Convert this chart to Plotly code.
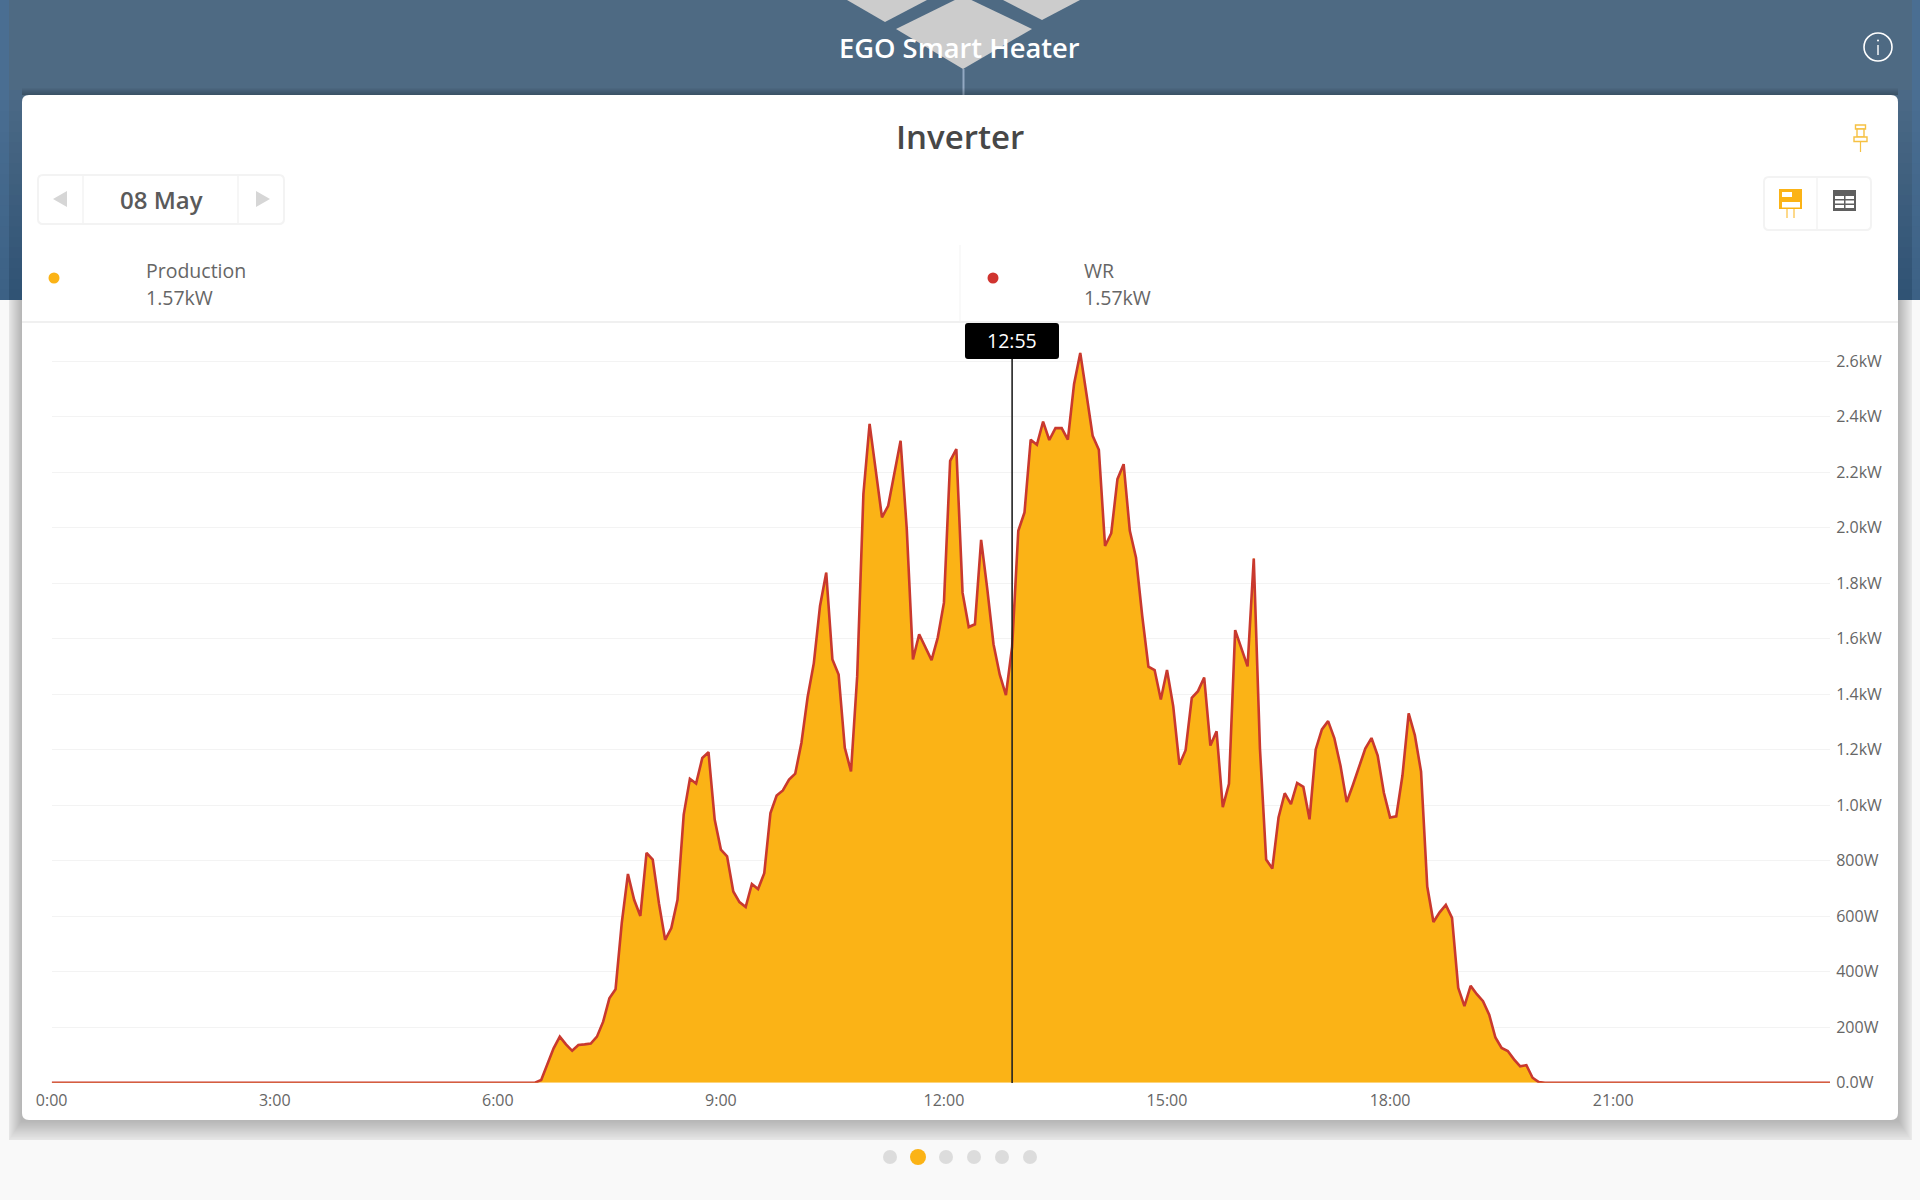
import plotly.graph_objects as go

# ---- data -----------------------------------------------------------------
night_before = [0, 0, 0, 0, 0, 0, 0, 0, 0, 0, 0, 0, 0, 0, 0, 0, 0, 0, 0, 0,
                0, 0, 0, 0, 0, 0, 0, 0, 0, 0, 0, 0, 0, 0, 0, 0, 0, 0, 0, 0,
                0, 0, 0, 0, 0, 0, 0, 0, 0, 0, 0, 0, 0, 0, 0, 0, 0, 0, 0, 0,
                0, 0, 0, 0, 0, 0, 0, 0, 0, 0, 0, 0, 0, 0, 0, 0, 0, 0, 0]
daylight = [10, 64, 124, 166, 138, 115, 136, 138, 141, 166, 220, 304, 337, 575, 752, 659, 601, 828, 804, 647,
            515, 557, 659, 966, 1095, 1078, 1170, 1191, 948, 840, 816, 689, 651, 633, 716, 698, 755, 972, 1035, 1053,
            1092, 1114, 1225, 1390, 1512, 1718, 1838, 1525, 1471, 1207, 1122, 1465, 2121, 2374, 2205, 2037, 2079, 2199, 2313, 1995,
            1525, 1616, 1568, 1523, 1604, 1730, 2241, 2283, 1766, 1642, 1652, 1956, 1778, 1580, 1471, 1397, 1570, 1989, 2055, 2317,
            2299, 2382, 2316, 2359, 2359, 2317, 2518, 2630, 2482, 2331, 2281, 1934, 1980, 2175, 2229, 1989, 1892, 1682, 1499, 1487,
            1381, 1487, 1357, 1146, 1198, 1387, 1411, 1460, 1215, 1266, 993, 1077, 1631, 1569, 1500, 1889, 1204, 804, 772, 956,
            1043, 1004, 1080, 1066, 949, 1201, 1273, 1303, 1242, 1142, 1011, 1073, 1142, 1204, 1242, 1179, 1045, 956, 960, 1107,
            1331, 1252, 1121, 707, 579, 614, 641, 594, 342, 276, 349, 319, 294, 245, 163, 125, 114, 84, 59, 63, 18, 2]
night_after = [0, 0, 0, 0, 0, 0, 0, 0, 0, 0, 0, 0, 0, 0, 0, 0, 0, 0, 0, 0,
               0, 0, 0, 0, 0, 0, 0, 0, 0, 0, 0, 0, 0, 0, 0, 0, 0, 0, 0, 0,
               0, 0, 0, 0, 0, 0, 0]
production_w = night_before + daylight + night_after
wr_w = list(production_w)
minutes = [i * 5 for i in range(len(production_w))]

x_tick_minutes = [0, 180, 360, 540, 720, 900, 1080, 1260]
x_tick_labels = ["0:00", "3:00", "6:00", "9:00", "12:00", "15:00", "18:00", "21:00"]
y_tick_watts = [0, 200, 400, 600, 800, 1000, 1200, 1400, 1600, 1800, 2000, 2200, 2400, 2600]
y_tick_labels = ["0.0W", "200W", "400W", "600W", "800W", "1.0kW", "1.2kW", "1.4kW",
                 "1.6kW", "1.8kW", "2.0kW", "2.2kW", "2.4kW", "2.6kW"]

cursor_minute = 775
cursor_label = "12:55"
date_label = "08 May"
legend_names = ["Production", "WR"]
legend_values = ["1.57kW", "1.57kW"]

ORANGE = "#fbb316"
RED = "#c9392e"
TXT = "#666666"
W, H = 1920, 1200
FONT = "Open Sans"


def X(p):
    return p / W


def Y(p):
    return 1 - p / H


shapes = []


def rect(x0, y0, x1, y1, fill, line=None, lw=0, layer="below"):
    shapes.append(dict(type="rect", xref="paper", yref="paper", x0=X(x0), x1=X(x1), y0=Y(y0), y1=Y(y1),
                       fillcolor=fill, line=dict(color=line or "rgba(0,0,0,0)", width=lw), layer=layer))


def poly(points, fill, line=None, lw=0, layer="below"):
    path = "M " + " L ".join(f"{X(a):.5f},{Y(b):.5f}" for a, b in points) + " Z"
    shapes.append(dict(type="path", xref="paper", yref="paper", path=path, fillcolor=fill,
                       line=dict(color=line or "rgba(0,0,0,0)", width=lw), layer=layer))


def rrect(x0, y0, x1, y1, r, fill, line=None, lw=0, layer="below"):
    p = (f"M {X(x0+r):.5f},{Y(y0):.5f} L {X(x1-r):.5f},{Y(y0):.5f} Q {X(x1):.5f},{Y(y0):.5f} {X(x1):.5f},{Y(y0+r):.5f} "
         f"L {X(x1):.5f},{Y(y1-r):.5f} Q {X(x1):.5f},{Y(y1):.5f} {X(x1-r):.5f},{Y(y1):.5f} "
         f"L {X(x0+r):.5f},{Y(y1):.5f} Q {X(x0):.5f},{Y(y1):.5f} {X(x0):.5f},{Y(y1-r):.5f} "
         f"L {X(x0):.5f},{Y(y0+r):.5f} Q {X(x0):.5f},{Y(y0):.5f} {X(x0+r):.5f},{Y(y0):.5f} Z")
    shapes.append(dict(type="path", xref="paper", yref="paper", path=p, fillcolor=fill,
                       line=dict(color=line or "rgba(0,0,0,0)", width=lw), layer=layer))


def seg(x0, y0, x1, y1, color, lw=1, layer="below"):
    shapes.append(dict(type="line", xref="paper", yref="paper", x0=X(x0), x1=X(x1), y0=Y(y0), y1=Y(y1),
                       line=dict(color=color, width=lw), layer=layer))


def circ(cx, cy, r, fill, line=None, lw=0, layer="below"):
    shapes.append(dict(type="circle", xref="paper", yref="paper", x0=X(cx-r), x1=X(cx+r), y0=Y(cy-r), y1=Y(cy+r),
                       fillcolor=fill, line=dict(color=line or "rgba(0,0,0,0)", width=lw), layer=layer))


def mix(a, b, t):
    return "rgb(" + ",".join(str(round(p + (q - p) * t)) for p, q in zip(a, b)) + ")"


# header band: side strips darken towards the bottom
rect(0, 0, W, 300, "#4a6e92")
rect(9, 0, 1912, 300, "#4e6a83")
band_rows = 20
for r in range(band_rows):
    y0 = 90 + r * 210 / band_rows
    y1 = y0 + 210 / band_rows + 0.5
    t = (r + 0.5) / band_rows
    outer = mix((74, 110, 146), (60, 97, 133), t)
    inner = mix((76, 106, 134), (47, 82, 116), t)
    rect(0, y0, 9, min(y1, 300), outer)
    rect(1912, y0, W, min(y1, 300), outer)
    rect(9, y0, 22, min(y1, 300), inner)
    rect(1898, y0, 1912, min(y1, 300), inner)

# logo diamonds behind title
poly([(847, 0), (885, 22), (927, 0)], "#cccccc")
poly([(1003, 0), (1042, 20), (1080, 0)], "#cccccc")
poly([(963, -4), (1032, 29), (963, 69), (896, 29)], "#cccccc")
seg(963.5, 69, 963.5, 95, "#93a9c2", 2)

# shadow above the card
for k in range(7):
    rect(22, 95 - 7 * (7 - k) / 7, 1898, 95, "rgba(0,0,0,0.03)")

# card shadow below the header
rect(9, 300, 1912, 1140, "#e9e9e9")
steps = 13
for k in range(steps):
    f = (steps - k) / steps
    rect(22 - 13 * f, 300, 1898 + 13 * f, 1120 + 20 * f, "rgba(0,0,0,0.015)")

# card
rrect(22, 95, 1898, 1120, 7, "#ffffff")
seg(22, 322, 1898, 322, "#f0f0f0", 2)
seg(960, 245, 960, 322, "#f3f3f3", 1)

# date picker
rrect(38, 175, 284, 224, 5, "#ffffff", "#f3f3f3", 2)
seg(83, 175, 83, 224, "#f3f3f3", 1.5)
seg(238, 175, 238, 224, "#f3f3f3", 1.5)
poly([(67, 191), (67, 207), (53, 199)], "#d6d6d6")
poly([(256, 191), (256, 207), (270, 199)], "#d6d6d6")

# view switch
rrect(1764, 177, 1871, 230, 5, "#ffffff", "#f3f3f3", 2)
seg(1817, 177, 1817, 230, "#f3f3f3", 1.5)
rect(1779, 189, 1802, 209, ORANGE)
rect(1782, 192, 1792, 197, "#ffffff")
rect(1782, 202, 1800, 207.5, "#ffffff")
seg(1787, 209, 1787, 218, ORANGE, 1)
seg(1794, 209, 1794, 218, ORANGE, 1)
rect(1833, 190, 1856, 211, "#5f5f5f")
for ry in (196, 200.5, 205):
    rect(1835, ry, 1844, ry + 3, "#ffffff")
    rect(1845.5, ry, 1854, ry + 3, "#ffffff")

# pin icon
rect(1855.5, 125, 1865.5, 129, "#ffffff", "#f6c143", 1.4)
rect(1857, 129, 1864, 137, "#ffffff", "#f6c143", 1.4)
rect(1854, 137, 1867, 141.5, "#ffffff", "#f6c143", 1.4)
seg(1860.5, 141.5, 1860.5, 152, "#f6c143", 1.2)

# info icon
circ(1878, 47, 14, "rgba(0,0,0,0)", "#ffffff", 1.6)
seg(1878, 45, 1878, 55, "#ffffff", 1.4)
circ(1878, 40.5, 1, "#ffffff")

# legend dots
circ(54, 278, 5.5, ORANGE)
circ(993, 278, 5.5, "#d0342f")

# pager
for px in (890, 946, 974, 1002, 1030):
    circ(px, 1157, 7, "#dcdcdc")
circ(918, 1157, 8, ORANGE)

# cursor and its label (drawn above the area)
shapes.append(dict(type="line", xref="x", yref="paper", x0=cursor_minute, x1=cursor_minute,
                   y0=Y(1083), y1=Y(358), line=dict(color="#222222", width=1.6), layer="above"))
rrect(965, 323, 1059, 359, 3, "#000000", layer="above")

fig = go.Figure()
fig.add_trace(go.Scatter(x=minutes, y=production_w, name=legend_names[0], mode="lines", fill="tozeroy",
                         fillcolor=ORANGE, line=dict(color=ORANGE, width=1), hoverinfo="skip"))
fig.add_trace(go.Scatter(x=minutes, y=wr_w, name=legend_names[1], mode="lines",
                         line=dict(color=RED, width=2.6), hoverinfo="skip"))


def note(text, px, py, size, color=TXT, anchor="center", weight=400):
    return dict(text=text, xref="paper", yref="paper", x=X(px), y=Y(py), xanchor=anchor, yanchor="middle",
                showarrow=False, font=dict(family=FONT, size=size, color=color, weight=weight))


annotations = [
    note("EGO Smart Heater", 959, 47, 27.3, "#ffffff", weight=600),
    note("Inverter", 960, 137, 33, "#474747", weight=600),
    note(date_label, 161, 200, 24, "#5a5a5a", weight=600),
    note(legend_names[0], 144, 270, 19.5, anchor="left"),
    note(legend_values[0], 144, 297, 19.5, anchor="left"),
    note(legend_names[1], 1082, 270, 19.5, anchor="left"),
    note(legend_values[1], 1082, 297, 19.5, anchor="left"),
    note(cursor_label, 1012, 340, 19.5, "#ffffff"),
]

PX_PER_200W = 55.5
fig.update_layout(
    width=W, height=H, margin=dict(l=0, r=0, t=0, b=0, pad=0, autoexpand=False), autosize=False,
    paper_bgcolor="#f9f9f9", plot_bgcolor="rgba(0,0,0,0)", showlegend=False,
    shapes=shapes, annotations=annotations,
    xaxis=dict(domain=[X(51.7), X(1830)], range=[0, 1435], tickmode="array", tickvals=x_tick_minutes,
               ticktext=x_tick_labels, showgrid=False, zeroline=False, showline=False, automargin=False,
               ticks="outside", ticklen=3.5, tickcolor="rgba(0,0,0,0)",
               tickfont=dict(family=FONT, size=16, color=TXT)),
    yaxis=dict(domain=[Y(1082.7), Y(323)], range=[0, 200 * (1082.7 - 323) / PX_PER_200W], side="right",
               tickmode="array", tickvals=y_tick_watts, ticktext=y_tick_labels, automargin=False,
               showgrid=True, gridcolor="#f3f3f3", gridwidth=1.3, zeroline=False, showline=False,
               ticks="outside", ticklen=2, tickcolor="rgba(0,0,0,0)",
               tickfont=dict(family=FONT, size=16, color=TXT)),
)

fig.write_html("out.html", config=dict(displayModeBar=False),
               post_script="document.body.style.margin='0';document.body.style.overflow='hidden';")
